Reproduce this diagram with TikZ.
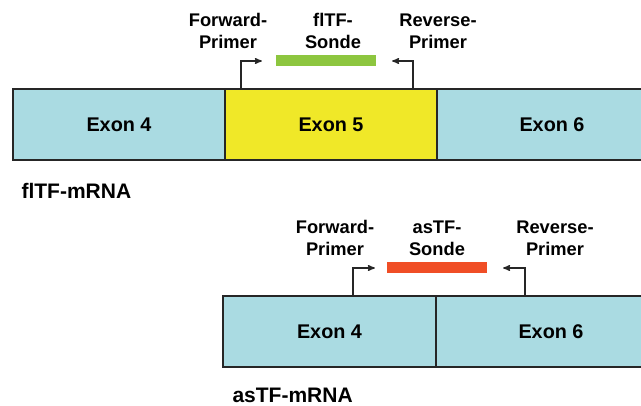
\documentclass[tikz,border=0pt]{standalone}
\usepackage{fontspec}
\setmainfont{Liberation Sans}
\usetikzlibrary{arrows,positioning}
\definecolor{exonblue}{RGB}{170,219,226}
\definecolor{exonyellow}{RGB}{240,232,40}
\definecolor{sondegreen}{RGB}{141,198,63}
\definecolor{sondered}{RGB}{240,78,38}
\tikzset{
    %Define standard arrow tip
    >=stealth',
    %Define style for exon boxes
    exon/.style={
           rectangle,
           draw=black!85, line width=1.3pt,
           fill=exonblue,
           outer sep=0pt,
           minimum height=71pt,
           font=\fontsize{19.8}{22}\selectfont\bfseries},
    % Define style for probes
    sonde/.style={
           rectangle,
           inner sep=0pt,
           minimum width=100pt,
           minimum height=11pt},
    % Define style for labels
    lbl/.style={
           align=center,
           font=\fontsize{18.3}{22}\selectfont\bfseries},
    % Define style for mRNA names
    rna/.style={
           anchor=west,
           font=\fontsize{21}{24}\selectfont\bfseries}
    ,
    % Define arrow style
    pil/.style={
           ->,
           line width=1.4pt,
           draw=black!85}
}
\begin{document}
\begin{tikzpicture}[x=1pt,y=-1pt]
\clip (0,0) rectangle (641,406);
\fill[white] (0,0) rectangle (641,406);

% flTF-mRNA
\node[exon, minimum width=212pt, anchor=north west] (ex4) at (13,89) {Exon 4};
\node[exon, minimum width=212pt, fill=exonyellow, right=0pt of ex4] (ex5) {Exon 5};
\node[exon, minimum width=230pt, right=0pt of ex5] (ex6) {Exon 6};
\node[rna] (fl-mrna) at (18,191) {flTF-mRNA};

\node[sonde, fill=sondegreen] (fl-sonde) at (326,61) {};
\node[lbl] (fl-fwd) at (228,31) {Forward-\\Primer};
\node[lbl] (fl-sondelbl) at (333,31) {flTF-\\Sonde};
\node[lbl] (fl-rev) at (438,31) {Reverse-\\Primer};

\draw[pil] ([xshift=16pt]ex5.north west) |- ([xshift=-14pt]fl-sonde.west);
\draw[pil] ([xshift=-24pt]ex5.north east) |- ([xshift=16pt]fl-sonde.east);

% asTF-mRNA
\node[exon, minimum width=213pt, anchor=north west] (as-ex4) at (223,296) {Exon 4};
\node[exon, minimum width=230pt, right=0pt of as-ex4] (as-ex6) {Exon 6};
\node[rna] (as-mrna) at (229,395) {asTF-mRNA};

\node[sonde, fill=sondered] (as-sonde) at (437,268) {};
\node[lbl] (as-fwd) at (335,238) {Forward-\\Primer};
\node[lbl] (as-sondelbl) at (437,238) {asTF-\\Sonde};
\node[lbl] (as-rev) at (555,238) {Reverse-\\Primer};

\draw[pil] ([xshift=130pt]as-ex4.north west) |- ([xshift=-12pt]as-sonde.west);
\draw[pil] ([xshift=89pt]as-ex6.north west) |- ([xshift=16pt]as-sonde.east);

\end{tikzpicture}
\end{document}
